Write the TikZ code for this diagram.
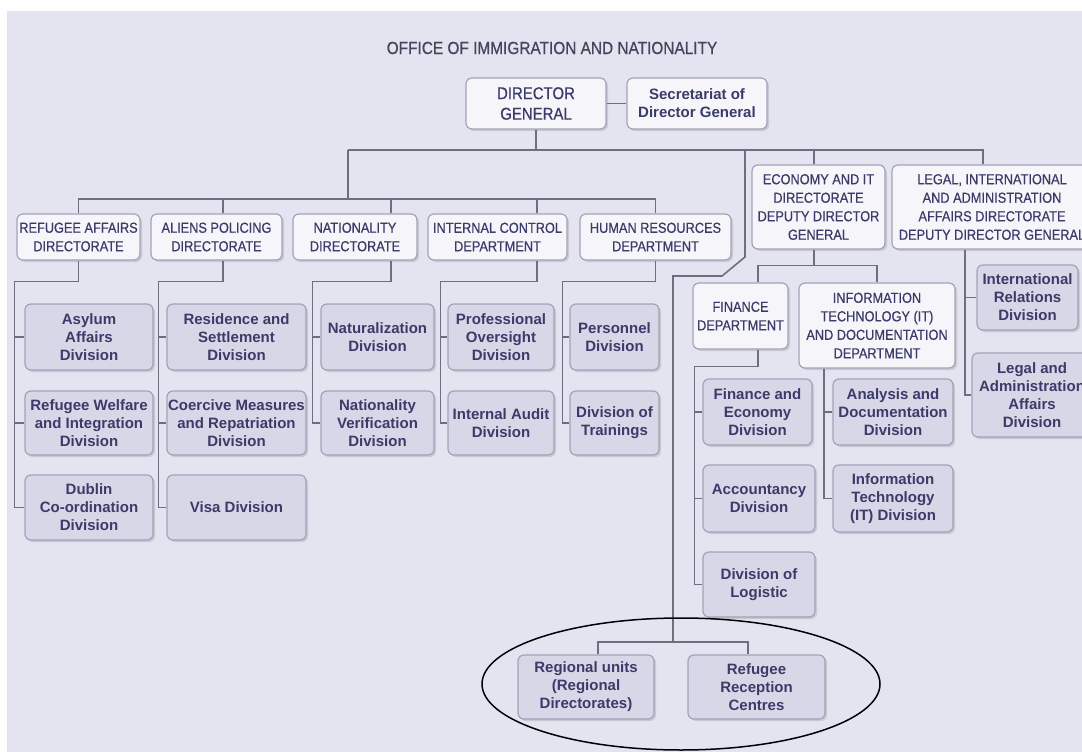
\documentclass[tikz,border=0pt]{standalone}
\usepackage{fontspec}
\setmainfont{Liberation Sans}
\newfontfamily\capsfont[FakeStretch=0.88,FakeBold=0.6]{Liberation Sans}
\usetikzlibrary{shadows}
\definecolor{bgcol}{HTML}{E4E4F1}
\definecolor{hdfill}{HTML}{F6F6FA}
\definecolor{dvfill}{HTML}{D7D7E7}
\definecolor{boxline}{HTML}{A2A2BA}
\definecolor{ink}{HTML}{3B3B6A}
\definecolor{titleink}{HTML}{44445C}
\definecolor{wire}{HTML}{6E6E82}
\tikzset{
  box/.style={draw=boxline,line width=1.2pt,rounded corners=6pt,align=center,text=ink,inner sep=0pt,
    drop shadow={shadow xshift=2pt,shadow yshift=-2pt,fill=black!45,opacity=0.3}},
  head/.style={box,fill=hdfill,font=\capsfont\fontsize{14.5}{18.5}\selectfont},
  div/.style={box,fill=dvfill,font=\bfseries\fontsize{15}{18}\selectfont},
  sz/.style 2 args={minimum width=#1pt,minimum height=#2pt},
  link/.style={draw=wire,line width=1.6pt},
}
\begin{document}
\begin{tikzpicture}[x=1pt,y=-1pt]
\fill[white] (0,0) rectangle (1082,752);
\fill[bgcol] (7,11) rectangle (1082,752);
\useasboundingbox (0,0) rectangle (1082,752);

\node[text=titleink,font=\capsfont\fontsize{17.5}{20}\selectfont] (title) at (552,48) {OFFICE OF IMMIGRATION AND NATIONALITY};
\node[head,sz={140}{51},font=\capsfont\fontsize{17}{20.5}\selectfont] (dg) at (536,103.5) {DIRECTOR\\GENERAL};
\node[box,fill=hdfill,sz={140}{51},font=\bfseries\fontsize{15}{18}\selectfont] (sec) at (697,103.5) {Secretariat of\\Director General};

\node[head,sz={123}{46}] (ra) at (78.5,237) {REFUGEE AFFAIRS\\DIRECTORATE};
\node[head,sz={131}{46}] (ap) at (216.5,237) {ALIENS POLICING\\DIRECTORATE};
\node[head,sz={124}{46}] (nd) at (355,237) {NATIONALITY\\DIRECTORATE};
\node[head,sz={139}{46}] (ic) at (497.5,237) {INTERNAL CONTROL\\DEPARTMENT};
\node[head,sz={151}{46}] (hr) at (655.5,237) {HUMAN RESOURCES\\DEPARTMENT};
\node[head,sz={133}{84}] (eco) at (818.5,207) {ECONOMY AND IT\\DIRECTORATE\\DEPUTY DIRECTOR\\GENERAL};
\node[head,sz={200}{84}] (legal) at (992,207) {LEGAL, INTERNATIONAL\\AND ADMINISTRATION\\AFFAIRS DIRECTORATE\\DEPUTY DIRECTOR GENERAL};
\node[head,sz={95}{66}] (fin) at (740.5,316) {FINANCE\\DEPARTMENT};
\node[head,sz={156}{85}] (itd) at (877,325.5) {INFORMATION\\TECHNOLOGY (IT)\\AND DOCUMENTATION\\DEPARTMENT};

\node[div,sz={128}{66}] (asylum) at (89,337) {Asylum\\Affairs\\Division};
\node[div,sz={128}{64}] (welfare) at (89,423) {Refugee Welfare\\and Integration\\Division};
\node[div,sz={128}{65}] (dublin) at (89,507.5) {Dublin\\Co-ordination\\Division};
\node[div,sz={139}{66}] (resid) at (236.5,337) {Residence and\\Settlement\\Division};
\node[div,sz={139}{64}] (coerc) at (236.5,423) {Coercive Measures\\and Repatriation\\Division};
\node[div,sz={139}{65}] (visa) at (236.5,507.5) {Visa Division};
\node[div,sz={113}{66}] (natur) at (377.5,337) {Naturalization\\Division};
\node[div,sz={113}{64}] (verif) at (377.5,423) {Nationality\\Verification\\Division};
\node[div,sz={106}{66}] (overs) at (501,337) {Professional\\Oversight\\Division};
\node[div,sz={106}{64}] (audit) at (501,423) {Internal Audit\\Division};
\node[div,sz={89}{66}] (pers) at (614.5,337) {Personnel\\Division};
\node[div,sz={89}{64}] (train) at (614.5,423) {Division of\\Trainings};
\node[div,sz={109}{66}] (fecon) at (757.5,412) {Finance and\\Economy\\Division};
\node[div,sz={112}{67}] (accnt) at (759,498.5) {Accountancy\\Division};
\node[div,sz={112}{65}] (logi) at (759,584.5) {Division of\\Logistic};
\node[div,sz={120}{66}] (anal) at (893,412) {Analysis and\\Documentation\\Division};
\node[div,sz={120}{67}] (itdiv) at (893,498.5) {Information\\Technology\\(IT) Division};
\node[div,sz={101}{65}] (intrel) at (1027.5,297.5) {International\\Relations\\Division};
\node[div,sz={120}{84}] (legadm) at (1032,395) {Legal and\\Administration\\Affairs\\Division};
\node[div,sz={136}{64}] (reg) at (586,687) {Regional units\\(Regional\\Directorates)};
\node[div,sz={137}{64}] (rec) at (756.5,687) {Refugee\\Reception\\Centres};

\coordinate (busL) at (348,150);
\coordinate (busR) at (983,150);
\coordinate (bus2) at (348,199);
\coordinate (rdrop) at (745,150);
\coordinate (rbus) at (673,642);

\draw[link] (dg) -- (sec);
\draw[link] (dg) -- (dg |- busL);
\draw[link] (busL) -- (busR) -- (busR |- legal.north);
\draw[link] ([xshift=-4.5pt]eco.north) -- ([xshift=-4.5pt]eco.north |- busL);
\draw[link] (busL) -- (bus2);
\draw[link] (ra.north) |- (hr.north |- bus2) -- (hr.north);
\foreach \n/\s in {ap/6.5,nd/36,ic/39.5}
  \draw[link] ([xshift=\s pt]\n.north) -- ([xshift=\s pt]\n.north |- bus2);

\draw[link] (ra.south) -- ++(0,21) -| ([xshift=-10pt]dublin.west) -- (dublin.west);
\draw[link] ([xshift=6.5pt]ap.south) -- ++(0,21) -| ([xshift=-8pt]visa.west) -- (visa.west);
\draw[link] ([xshift=36pt]nd.south) -- ++(0,21) -| ([xshift=-8pt]verif.west) -- (verif.west);
\draw[link] ([xshift=39.5pt]ic.south) -- ++(0,21) -| ([xshift=-7pt]audit.west) -- (audit.west);
\draw[link] (hr.south) -- ++(0,21) -| ([xshift=-7pt]train.west) -- (train.west);
\foreach \n/\s in {asylum/10,welfare/10,resid/8,coerc/8,natur/8,overs/7,pers/7,fecon/8,accnt/8,anal/9,intrel/12}
  \draw[link] (\n.west) -- ++(-\s,0);

\draw[link] ([xshift=-4.5pt]eco.south) -- ++(0,16) coordinate (ebus);
\draw[link] ([xshift=17.5pt]fin.north) |- (ebus) -| (itd.north);
\draw[link] ([xshift=17.5pt]fin.south) -- ++(0,17) -| ([xshift=-8pt]logi.west) -- (logi.west);
\draw[link] ([xshift=-53pt]itd.south) |- (itdiv.west);
\draw[link] ([xshift=-27pt]legal.south) |- (legadm.west);

\draw[link] (rdrop) -- ++(0,107) -- ++(-23,19) -| (rbus);
\draw[link] ([xshift=12pt]reg.north) |- (rbus) -| ([xshift=-8.5pt]rec.north);

\draw[line width=1.5pt] (681,684) ellipse [x radius=199pt,y radius=66pt];
\end{tikzpicture}
\end{document}
